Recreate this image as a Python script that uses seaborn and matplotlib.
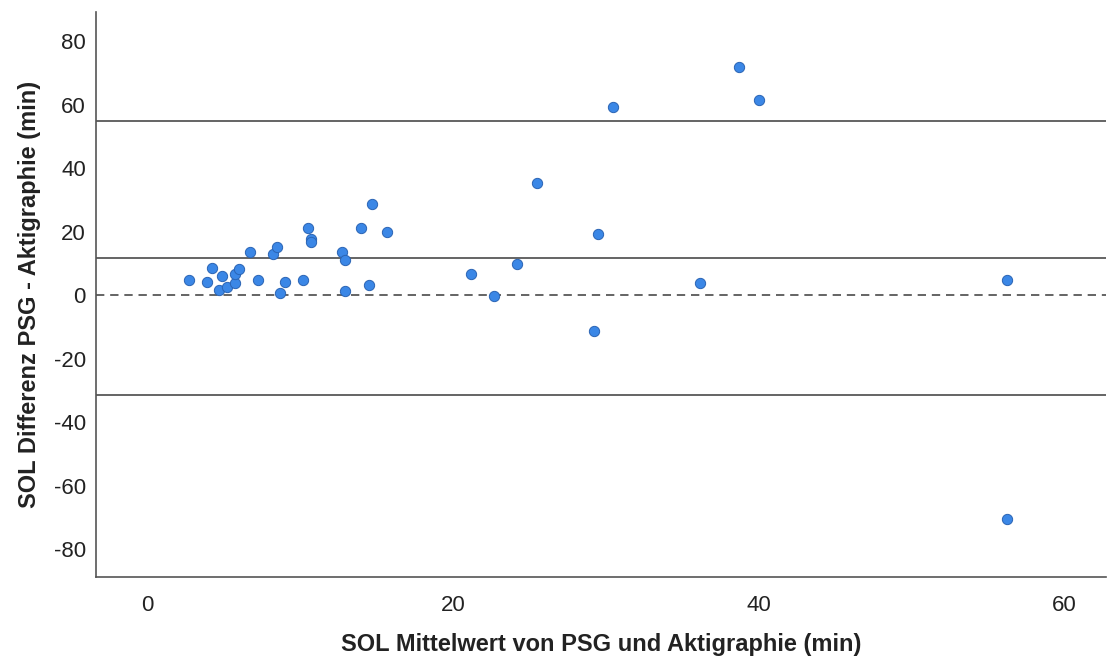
import matplotlib
matplotlib.use("Agg")
import matplotlib.pyplot as plt
import seaborn as sns
import pandas as pd

# Bland-Altman data: mean of PSG and actigraphy vs. their difference (SOL, minutes)
mean_values = [
    2.7, 3.9, 4.2, 4.7, 4.9, 5.2, 5.7, 5.7, 6.0, 6.7,
    7.2, 8.2, 8.5, 8.7, 9.0, 10.2, 10.5, 10.7, 10.7, 12.7,
    12.9, 12.9, 14.0, 14.5, 14.7, 15.7, 21.2, 22.7, 24.2, 25.5,
    29.5, 29.2, 36.2, 30.5, 38.7, 40.0, 56.3, 56.3,
]
diff_values = [
    4.9, 4.35, 8.8, 1.7, 6.2, 2.8, 3.8, 6.8, 8.4, 13.8,
    4.9, 12.9, 15.4, 0.7, 4.35, 4.9, 21.4, 17.9, 16.8, 13.8,
    11.2, 1.4, 21.4, 3.2, 28.8, 19.9, 6.8, -0.25, 9.8, 35.3,
    19.4, -11.3, 3.8, 59.4, 72.1, 61.5, 4.8, -70.5,
]

# Mean difference and limits of agreement
bias = 11.8
upper_loa = 55.0
lower_loa = -31.4

x_ticks = [0, 20, 40, 60]
y_ticks = [-80, -60, -40, -20, 0, 20, 40, 60, 80]

df = pd.DataFrame({"mean": mean_values, "diff": diff_values})

sns.set_theme(style="white")
plt.rcParams["font.family"] = ["Liberation Sans", "DejaVu Sans"]
plt.rcParams["axes.unicode_minus"] = False

fig = plt.figure(figsize=(11.07, 6.58), dpi=100)
ax = fig.add_axes([0.0864, 0.1231, 0.9127, 0.8587])

line_color = "#4a4a4a"
ax.axhline(upper_loa, color=line_color, lw=1.2, zorder=1)
ax.axhline(bias, color=line_color, lw=1.2, zorder=1)
ax.axhline(lower_loa, color=line_color, lw=1.2, zorder=1)
ax.axhline(0, color=line_color, lw=1.2, ls=(0, (5, 3.5)), zorder=1)

sns.scatterplot(
    data=df, x="mean", y="diff", ax=ax,
    s=55, color="#3b87e6", edgecolor="#2a64b4", linewidth=0.7, zorder=3,
)

ax.set_xlim(-3.4, 62.75)
ax.set_ylim(-88.7, 89.3)
ax.set_xticks(x_ticks)
ax.set_yticks(y_ticks)
ax.tick_params(axis="both", length=0, labelsize=16, colors="#222222")
ax.tick_params(axis="x", pad=13)
ax.tick_params(axis="y", pad=7)

for side in ("top", "right"):
    ax.spines[side].set_visible(False)
for side in ("left", "bottom"):
    ax.spines[side].set_color("#555555")
    ax.spines[side].set_linewidth(1.2)

ax.set_xlabel("SOL Mittelwert von PSG und Aktigraphie (min)",
              fontsize=17, fontweight="bold", labelpad=12, color="#222222")
ax.set_ylabel("SOL Differenz PSG - Aktigraphie (min)",
              fontsize=17, fontweight="bold", labelpad=9, color="#222222")

fig.savefig("out.png", dpi=100)
